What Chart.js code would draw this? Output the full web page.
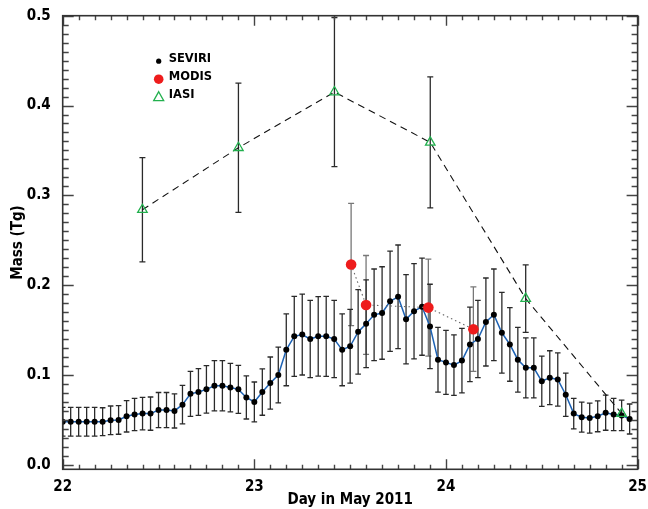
<!DOCTYPE html>
<html>
<head>
<meta charset="utf-8">
<script src="https://cdn.jsdelivr.net/npm/chart.js@4.4.0/dist/chart.umd.min.js"></script>
<style>
  html, body { margin: 0; padding: 0; background: #fff; }
  canvas { display: block; }
</style>
</head>
<body>
<canvas id="massChart" width="648" height="509"></canvas>
<script>
// SEVIRI hourly retrievals (hours after 22 May 00 UTC)
var seviriHour = [
  0, 1, 2, 3, 4, 5, 6, 7, 8, 9, 10, 11, 12, 13, 14, 15, 16, 17, 18, 19, 20, 21, 22, 23,
  24, 25, 26, 27, 28, 29, 30, 31, 32, 33, 34, 35, 36, 37, 38, 39, 40, 41, 42, 43, 44, 45, 46, 47,
  48, 49, 50, 51, 52, 53, 54, 55, 56, 57, 58, 59, 60, 61, 62, 63, 64, 65, 66, 67, 68, 69, 70, 71
];
var seviriMass = [
  0.048, 0.048, 0.048, 0.048, 0.048, 0.048, 0.0495, 0.050, 0.054, 0.056, 0.057, 0.057,
  0.061, 0.061, 0.060, 0.067, 0.079, 0.081, 0.084, 0.088, 0.088, 0.086, 0.084, 0.075,
  0.070, 0.081, 0.091, 0.100, 0.128, 0.143, 0.145, 0.140, 0.143, 0.143, 0.140, 0.128,
  0.132, 0.148, 0.157, 0.167, 0.169, 0.182, 0.187, 0.162, 0.171, 0.176, 0.154, 0.117,
  0.114, 0.111, 0.116, 0.134, 0.140, 0.159, 0.167, 0.147, 0.134, 0.117, 0.108, 0.108,
  0.093, 0.097, 0.095, 0.078, 0.057, 0.053, 0.052, 0.054, 0.058, 0.056, 0.055, 0.051
];
var seviriErr = [
  0.016, 0.016, 0.016, 0.016, 0.016, 0.0155, 0.016, 0.016, 0.0175, 0.018, 0.018, 0.0185,
  0.0195, 0.0195, 0.019, 0.0215, 0.025, 0.026, 0.0265, 0.028, 0.028, 0.027, 0.0267, 0.024,
  0.0222, 0.0258, 0.029, 0.031, 0.040, 0.0445, 0.045, 0.043, 0.0443, 0.0445, 0.043, 0.040,
  0.041, 0.047, 0.0488, 0.051, 0.0515, 0.0558, 0.0577, 0.0497, 0.053, 0.054, 0.047, 0.036,
  0.0356, 0.0337, 0.036, 0.0415, 0.043, 0.049, 0.051, 0.045, 0.041, 0.036, 0.0334, 0.0334,
  0.028, 0.030, 0.0297, 0.024, 0.017, 0.0167, 0.0167, 0.0172, 0.0195, 0.018, 0.017, 0.0167
];

// MODIS overpasses
var modisDay = [23.505, 23.583, 23.908, 24.143];
var modisMass = [0.223, 0.178, 0.175, 0.151];
var modisErr = [0.068, 0.055, 0.054, 0.047];

// IASI overpasses
var iasiDay = [22.416, 22.917, 23.418, 23.918, 24.416, 24.917];
var iasiMass = [0.284, 0.353, 0.415, 0.359, 0.185, 0.057];
var iasiErr = [0.058, 0.072, 0.083, 0.073, 0.0375, 0];

var xTickValues = [22, 23, 24, 25];
var yTickValues = [0.0, 0.1, 0.2, 0.3, 0.4, 0.5];
var legendLabels = ['SEVIRI', 'MODIS', 'IASI'];

var axisFont = { family: "'DejaVu Sans Condensed', 'DejaVu Sans', sans-serif", weight: 'bold', size: 15 };

function toPoints(xs, ys) {
  return xs.map(function (x, i) { return { x: x, y: ys[i] }; });
}

// vertical error bars with caps, drawn under the markers
var errorBars = {
  id: 'errorBars',
  beforeDatasetsDraw: function (chart) {
    var ctx = chart.ctx, xs = chart.scales.x, ys = chart.scales.y, area = chart.chartArea;
    ctx.save();
    ctx.beginPath();
    ctx.rect(area.left, area.top - 1, area.right - area.left, area.bottom - area.top + 2);
    ctx.clip();
    chart.data.datasets.forEach(function (ds) {
      if (!ds.errors) return;
      ctx.strokeStyle = ds.errorColor;
      ctx.lineWidth = 1.3;
      var cap = ds.errorCap;
      ds.data.forEach(function (p, i) {
        var e = ds.errors[i];
        if (!e) return;
        var px = xs.getPixelForValue(p.x);
        var top = ys.getPixelForValue(p.y + e);
        var bot = ys.getPixelForValue(p.y - e);
        ctx.beginPath();
        ctx.moveTo(px, top); ctx.lineTo(px, bot);
        ctx.moveTo(px - cap, top); ctx.lineTo(px + cap, top);
        ctx.moveTo(px - cap, bot); ctx.lineTo(px + cap, bot);
        ctx.stroke();
      });
    });
    ctx.restore();
  }
};

// box frame with inward major and minor ticks on all four sides
var frameTicks = {
  id: 'frameTicks',
  afterDraw: function (chart) {
    var ctx = chart.ctx, xs = chart.scales.x, ys = chart.scales.y, a = chart.chartArea;
    ctx.save();
    ctx.strokeStyle = '#444';
    ctx.lineWidth = 1.4;
    ctx.beginPath();
    var i, v, px, py, len;
    for (i = 0; i <= 36; i++) {
      v = 22 + i / 12;
      px = Math.round(xs.getPixelForValue(v)) + 0.5;
      len = (i % 12 === 0) ? 10 : 4.5;
      ctx.moveTo(px, a.bottom); ctx.lineTo(px, a.bottom - len);
      ctx.moveTo(px, a.top); ctx.lineTo(px, a.top + len);
    }
    for (i = 0; i <= 50; i++) {
      v = i / 100;
      py = Math.round(ys.getPixelForValue(v)) + 0.5;
      len = (i % 10 === 0) ? 11 : 6;
      ctx.moveTo(a.left, py); ctx.lineTo(a.left + len, py);
      ctx.moveTo(a.right, py); ctx.lineTo(a.right - len, py);
    }
    ctx.stroke();
    ctx.lineWidth = 1.6;
    ctx.strokeStyle = '#333';
    ctx.strokeRect(a.left, a.top, a.right - a.left, a.bottom - a.top);
    ctx.restore();
  }
};

// symbol key in the upper left of the plot
var symbolKey = {
  id: 'symbolKey',
  afterDraw: function (chart) {
    var ctx = chart.ctx, a = chart.chartArea;
    var mx = a.left + 96, tx = a.left + 106, y0 = a.top + 44, dy = 18;
    ctx.save();
    ctx.font = "bold 11.5px 'DejaVu Sans', sans-serif";
    ctx.textBaseline = 'middle';
    ctx.fillStyle = '#000';
    legendLabels.forEach(function (label, i) {
      ctx.fillText(label, tx, y0 + i * dy - 1);
    });
    // SEVIRI dot
    ctx.beginPath();
    ctx.arc(mx, y0 + 1.5, 2.6, 0, Math.PI * 2);
    ctx.fillStyle = '#000';
    ctx.fill();
    // MODIS disc
    ctx.beginPath();
    ctx.arc(mx, y0 + dy + 1.5, 4.8, 0, Math.PI * 2);
    ctx.fillStyle = '#ee1c1c';
    ctx.fill();
    // IASI triangle
    var ty = y0 + 2 * dy + 1.5;
    ctx.beginPath();
    ctx.moveTo(mx, ty - 5.5);
    ctx.lineTo(mx + 5, ty + 3.5);
    ctx.lineTo(mx - 5, ty + 3.5);
    ctx.closePath();
    ctx.strokeStyle = '#22b04e';
    ctx.lineWidth = 1.3;
    ctx.stroke();
    ctx.restore();
  }
};

var ctx = document.getElementById('massChart').getContext('2d');

var massChart = new Chart(ctx, {
  type: 'scatter',
  data: {
    datasets: [{
      label: 'IASI',
      data: toPoints(iasiDay, iasiMass),
      showLine: true,
      borderColor: '#111',
      borderWidth: 1.1,
      borderDash: [7, 5],
      pointStyle: 'triangle',
      pointRadius: 5.5,
      pointBorderWidth: 1.3,
      pointBorderColor: '#22b04e',
      pointBackgroundColor: 'rgba(0,0,0,0)',
      errors: iasiErr,
      errorColor: '#2a2a2a',
      errorCap: 3,
      order: 1
    }, {
      label: 'MODIS',
      data: toPoints(modisDay, modisMass),
      showLine: true,
      borderColor: '#666',
      borderWidth: 1.1,
      borderDash: [1.5, 3],
      pointRadius: 5.3,
      pointBorderWidth: 0,
      pointBackgroundColor: '#ee1c1c',
      errors: modisErr,
      errorColor: '#777',
      errorCap: 3,
      order: 2
    }, {
      label: 'SEVIRI',
      data: toPoints(seviriHour.map(function (h) { return 22 + h / 24; }), seviriMass),
      showLine: true,
      borderColor: '#1d62b4',
      borderWidth: 1.5,
      pointRadius: 3,
      pointBorderWidth: 0,
      pointBackgroundColor: '#000',
      errors: seviriErr,
      errorColor: '#2a2a2a',
      errorCap: 2.8,
      order: 3
    }]
  },
  options: {
    responsive: false,
    animation: false,
    devicePixelRatio: 1,
    layout: { padding: { top: 15.7, right: 8.7, left: 0, bottom: 0 } },
    plugins: {
      legend: { display: false },
      tooltip: { enabled: false }
    },
    scales: {
      x: {
        type: 'linear',
        min: 22,
        max: 25,
        grid: { display: false },
        border: { display: false },
        afterBuildTicks: function (scale) {
          scale.ticks = xTickValues.map(function (v) { return { value: v }; });
        },
        afterFit: function (scale) { scale.height = 39.7; },
        ticks: {
          color: '#000',
          font: axisFont,
          padding: 1,
          maxRotation: 0,
          callback: function (v) { return String(v); }
        },
        title: {
          display: true,
          text: 'Day in May 2011',
          color: '#000',
          font: axisFont,
          padding: { top: 0, bottom: 0 }
        }
      },
      y: {
        type: 'linear',
        min: -0.005,
        max: 0.5,
        grid: { display: false },
        border: { display: false },
        afterBuildTicks: function (scale) {
          scale.ticks = yTickValues.map(function (v) { return { value: v }; });
        },
        afterFit: function (scale) { scale.width = 62.7; },
        ticks: {
          color: '#000',
          font: axisFont,
          padding: 4,
          callback: function (v) { return Number(v).toFixed(1); }
        },
        title: {
          display: true,
          text: 'Mass (Tg)',
          color: '#000',
          font: axisFont,
          padding: { top: 9, bottom: 0 }
        }
      }
    }
  },
  plugins: [errorBars, frameTicks, symbolKey]
});
</script>
</body>
</html>
